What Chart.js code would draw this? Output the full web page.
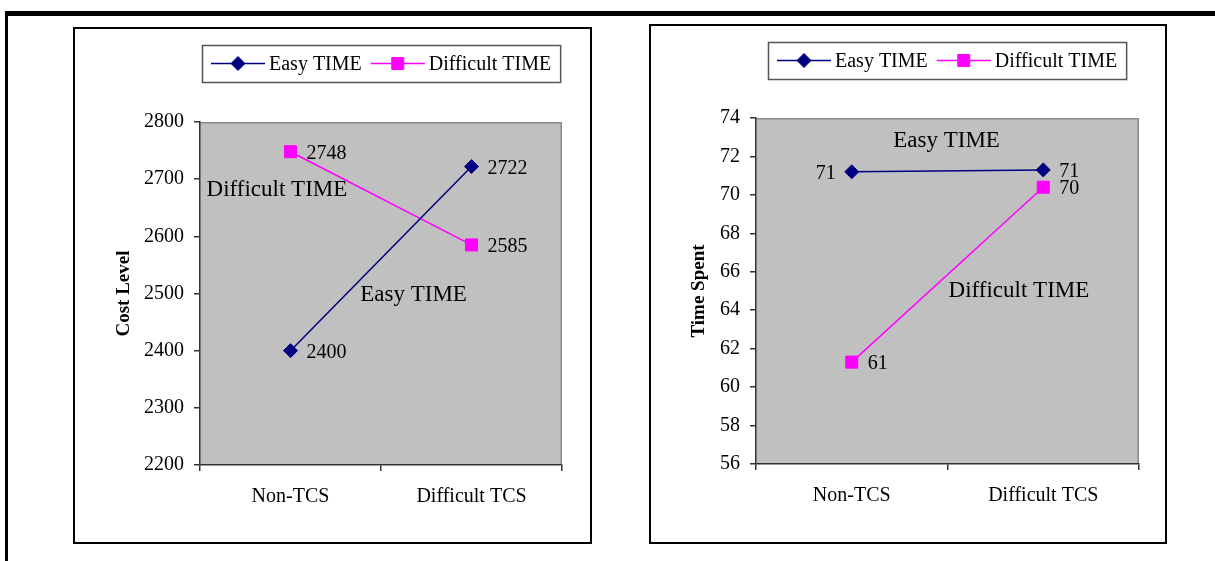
<!DOCTYPE html>
<html>
<head>
<meta charset="utf-8">
<title>Cost Level and Time Spent</title>
<script src="https://cdn.jsdelivr.net/npm/chart.js@4.4.1/dist/chart.umd.min.js"></script>
<style>
  body { margin: 0; width: 1215px; height: 561px; overflow: hidden; background: #fff; position: relative; }
  .frame { position: absolute; left: 5px; top: 11px; right: 0; bottom: 0; border-top: 5px solid #000; border-left: 3px solid #000; }
  .box { position: absolute; border: 2px solid #000; background: #fff; }
  #box1 { left: 73px; top: 27px; width: 515px; height: 513px; }
  #box2 { left: 649px; top: 24px; width: 514px; height: 516px; }
  canvas { display: block; }
</style>
</head>
<body>
<div class="frame"></div>
<div class="box" id="box1"><canvas id="costChart"></canvas></div>
<div class="box" id="box2"><canvas id="timeChart"></canvas></div>
<script>
const categories = ['Non-TCS', 'Difficult TCS'];
const seriesNames = ['Easy TIME', 'Difficult TIME'];

const costEasy = [2400, 2722];
const costDifficult = [2748, 2585];
const costTicks = [2200, 2300, 2400, 2500, 2600, 2700, 2800];

const timeEasy = [71.2, 71.3];
const timeDifficult = [61.3, 70.4];
const timeTicks = [56, 58, 60, 62, 64, 66, 68, 70, 72, 74];

const SERIF = "'Liberation Serif', 'Times New Roman', serif";
Chart.defaults.font.family = SERIF;
Chart.defaults.color = '#000';

function marker(ctx, style, x, y, r) {
  ctx.beginPath();
  if (style === 'rectRot') {
    ctx.moveTo(x - r, y); ctx.lineTo(x, y - r); ctx.lineTo(x + r, y); ctx.lineTo(x, y + r);
  } else {
    const s = r * Math.SQRT1_2;
    ctx.rect(x - s, y - s, 2 * s, 2 * s);
  }
  ctx.closePath();
  ctx.fill();
  ctx.stroke();
}

// grey plot area, thin grey frame on top and right
const plotFrame = {
  id: 'plotFrame',
  beforeDraw(chart) {
    const { ctx, chartArea: a } = chart;
    ctx.save();
    ctx.fillStyle = '#c0c0c0';
    ctx.fillRect(a.left, a.top, a.width, a.height);
    ctx.strokeStyle = '#8a8a8a';
    ctx.lineWidth = 1.5;
    ctx.beginPath();
    ctx.moveTo(a.left, a.top + 0.75);
    ctx.lineTo(a.right - 0.75, a.top + 0.75);
    ctx.lineTo(a.right - 0.75, a.bottom);
    ctx.stroke();
    ctx.restore();
  }
};

// legend in a bordered box, line + marker + label
const boxLegend = {
  id: 'boxLegend',
  afterDraw(chart, args, opts) {
    const { ctx, chartArea: a } = chart;
    ctx.save();
    ctx.font = '20px ' + SERIF;
    const items = chart.data.datasets.map(ds => ({ ds, w: ctx.measureText(ds.label).width }));
    const total = items.reduce((s, it) => s + 58 + it.w, 0) + 9 * (items.length - 1) + 18;
    let x = Math.round((a.left + a.right) / 2 - total / 2);
    const top = opts.top, h = 37, cy = top + h / 2;
    ctx.strokeStyle = '#555';
    ctx.lineWidth = 1.5;
    ctx.strokeRect(x + 0.5, top + 0.5, total, h);
    x += 9;
    items.forEach(({ ds, w }) => {
      ctx.strokeStyle = ds.borderColor;
      ctx.lineWidth = ds.borderWidth;
      ctx.beginPath();
      ctx.moveTo(x, cy);
      ctx.lineTo(x + 54, cy);
      ctx.stroke();
      ctx.fillStyle = ds.pointBackgroundColor;
      ctx.lineWidth = 1;
      marker(ctx, ds.pointStyle, x + 27, cy, ds.pointRadius);
      ctx.fillStyle = '#000';
      ctx.textBaseline = 'middle';
      ctx.textAlign = 'left';
      ctx.fillText(ds.label, x + 58, cy + 1);
      x += 58 + w + 9;
    });
    ctx.restore();
  }
};

// value next to each point, rounded like the source sheet
const pointValues = {
  id: 'pointValues',
  afterDatasetsDraw(chart) {
    const { ctx } = chart;
    ctx.save();
    ctx.font = '20px ' + SERIF;
    ctx.fillStyle = '#000';
    ctx.textBaseline = 'middle';
    chart.data.datasets.forEach((ds, i) => {
      chart.getDatasetMeta(i).data.forEach((pt, j) => {
        const left = ds.valueSide && ds.valueSide[j] === 'left';
        ctx.textAlign = left ? 'right' : 'left';
        ctx.fillText(String(Math.round(ds.data[j])), pt.x + (left ? -16 : 16), pt.y + 2);
      });
    });
    ctx.restore();
  }
};

// series names written inside the plot
const seriesTags = {
  id: 'seriesTags',
  afterDatasetsDraw(chart, args, opts) {
    const { ctx, scales } = chart;
    ctx.save();
    ctx.font = '23px ' + SERIF;
    ctx.fillStyle = '#000';
    ctx.textAlign = 'center';
    ctx.textBaseline = 'middle';
    (opts.tags || []).forEach(t => {
      ctx.fillText(chart.data.datasets[t.dataset].label,
        scales.x.getPixelForValue(t.x), scales.y.getPixelForValue(t.y));
    });
    ctx.restore();
  }
};

function lineChart(canvasId, easy, difficult, ticks, yTitle, opts) {
  return new Chart(document.getElementById(canvasId), {
    type: 'line',
    data: {
      labels: categories,
      datasets: [
        {
          label: seriesNames[0], data: easy,
          borderColor: '#000080', backgroundColor: '#000080', pointBackgroundColor: '#000080',
          borderWidth: 1.5, pointStyle: 'rectRot', pointRadius: 7, pointBorderWidth: 1,
          valueSide: opts.easySide
        },
        {
          label: seriesNames[1], data: difficult,
          borderColor: '#ff00ff', backgroundColor: '#ff00ff', pointBackgroundColor: '#ff00ff',
          borderWidth: 1.5, pointStyle: 'rect', pointRadius: 8.5, pointBorderWidth: 1,
          valueSide: ['right', 'right']
        }
      ]
    },
    options: {
      responsive: true,
      maintainAspectRatio: false,
      animation: false,
      layout: { padding: { left: 0, right: opts.right, top: opts.top, bottom: 0 } },
      plugins: {
        legend: { display: false },
        tooltip: { enabled: false },
        boxLegend: { top: 16 },
        seriesTags: { tags: opts.tags }
      },
      scales: {
        x: {
          offset: true,
          grid: { offset: true, drawOnChartArea: false, tickLength: 6, color: '#333', lineWidth: 1.5 },
          border: { color: '#333', width: 1.5 },
          ticks: { padding: 14, font: { size: 20 }, color: '#000', maxRotation: 0 },
          afterFit: s => { s.height = opts.bottom; }
        },
        y: {
          min: ticks[0],
          max: ticks[ticks.length - 1],
          afterBuildTicks: s => { s.ticks = ticks.map(v => ({ value: v })); },
          afterFit: s => { s.width = opts.axisWidth; },
          grid: { drawOnChartArea: false, tickLength: 6, color: '#333', lineWidth: 1.5 },
          border: { color: '#333', width: 1.5 },
          ticks: { padding: 10, font: { size: 20 }, color: '#000', callback: v => String(v) },
          title: {
            display: true, text: yTitle, color: '#000',
            font: { size: 19, weight: 'bold' }, padding: { top: opts.titleGap, bottom: 0 }
          }
        }
      }
    },
    plugins: [plotFrame, boxLegend, pointValues, seriesTags]
  });
}

lineChart('costChart', costEasy, costDifficult, costTicks, 'Cost Level', {
  right: 28, top: 93, bottom: 77, axisWidth: 125, titleGap: 38,
  easySide: ['right', 'right'],
  tags: [{ dataset: 1, x: -0.075, y: 2681 }, { dataset: 0, x: 0.68, y: 2497 }]
});

lineChart('timeChart', timeEasy, timeDifficult, timeTicks, 'Time Spent', {
  right: 26, top: 92, bottom: 78, axisWidth: 105, titleGap: 37,
  easySide: ['left', 'right'],
  tags: [{ dataset: 0, x: 0.495, y: 72.8 }, { dataset: 1, x: 0.873, y: 65.0 }]
});
</script>
</body>
</html>
